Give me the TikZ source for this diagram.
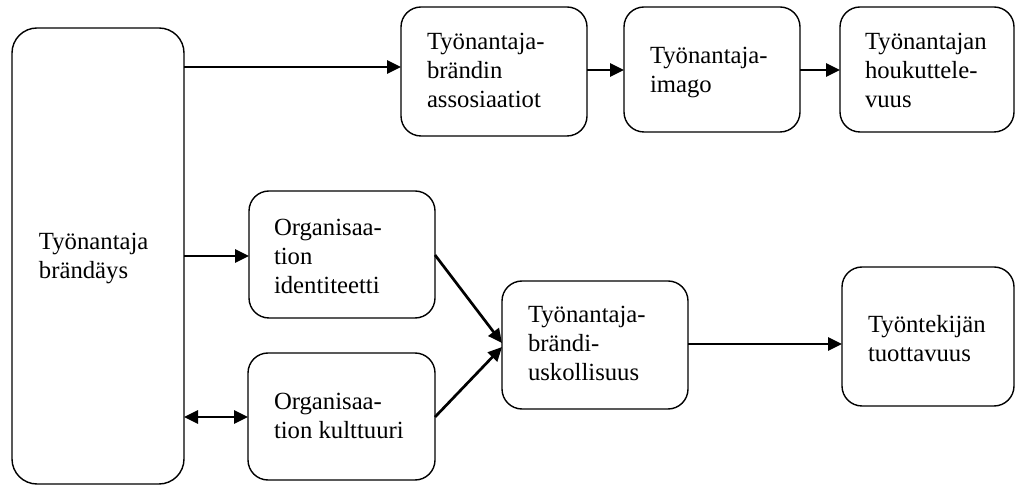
\documentclass[tikz,border=0pt]{standalone}
\usepackage{fontspec}
\setmainfont{Liberation Serif}
\usetikzlibrary{arrows.meta}
\tikzset{
  box/.style={draw, line width=0.7pt, rounded corners=10pt, inner sep=0pt, outer sep=0pt},
  bigbox/.style={box, rounded corners=12.5pt},
  txt/.style={anchor=north west, inner sep=0pt, outer sep=0pt, align=left,
    font=\fontsize{12.35pt}{14.6pt}\selectfont},
  arr/.style={line width=1.35pt, -{Triangle[length=7pt,width=6.5pt]}},
  darr/.style={line width=1.35pt, {Triangle[length=7pt,width=6.5pt]}-{Triangle[length=7pt,width=6.5pt]}}
}
\begin{document}
\begin{tikzpicture}[x=0.5pt,y=-0.5pt]
\useasboundingbox (0,0) rectangle (1016,485);
% boxes
\node[bigbox, minimum width=86pt, minimum height=228pt] (big) at (98,256) {};
\node[box, minimum width=93pt, minimum height=64.5pt] (assos) at (494,71.5) {};
\node[box, minimum width=88pt, minimum height=62.5pt] (imago) at (712,69.5) {};
\node[box, minimum width=87pt, minimum height=62.5pt] (houk) at (927,69.5) {};
\node[box, minimum width=93pt, minimum height=63.5pt] (ident) at (342,254.5) {};
\node[box, minimum width=93.5pt, minimum height=63.5pt] (kult) at (341.5,416.5) {};
\node[box, minimum width=93pt, minimum height=64pt] (usk) at (595,345) {};
\node[box, minimum width=86pt, minimum height=69.5pt] (tuott) at (928,336.5) {};
% texts (first baseline minus ~17px)
\node[txt] (bigT) at (39,233) {Työnantaja\\brändäys};
\node[txt] (assosT) at (427,33) {Työnantaja-\\brändin\\assosiaatiot};
\node[txt] (imagoT) at (650,47) {Työnantaja-\\imago};
\node[txt] (houkT) at (865,33) {Työnantajan\\houkuttele-\\vuus};
\node[txt] (identT) at (274,219) {Organisaa-\\tion\\identiteetti};
\node[txt] (kultT) at (274,393) {Organisaa-\\tion kulttuuri};
\node[txt] (uskT) at (528,306) {Työnantaja-\\brändi-\\uskollisuus};
\node[txt] (tuottT) at (868,315) {Työntekijän\\tuottavuus};
% coordinates for connector ends
\coordinate (c1) at (0,67);
\coordinate (c2) at (0,70);
\coordinate (c3) at (0,256);
\coordinate (c4) at (0,417);
\coordinate (c5) at (0,344);
\coordinate (i1) at (0,255);
\coordinate (u1) at (0,343);
\coordinate (u2) at (0,347);
% connectors
\draw[arr] (big.east |- c1) -- (assos.west |- c1);
\draw[arr] (assos.east |- c2) -- (imago.west |- c2);
\draw[arr] (imago.east |- c2) -- (houk.west |- c2);
\draw[arr] (big.east |- c3) -- (ident.west |- c3);
\draw[darr] (big.east |- c4) -- (kult.west |- c4);
\draw[arr] (ident.east |- i1) -- (usk.west |- u1);
\draw[arr] (kult.east |- c4) -- (usk.west |- u2);
\draw[arr] (usk.east |- c5) -- (tuott.west |- c5);
\end{tikzpicture}
\end{document}
